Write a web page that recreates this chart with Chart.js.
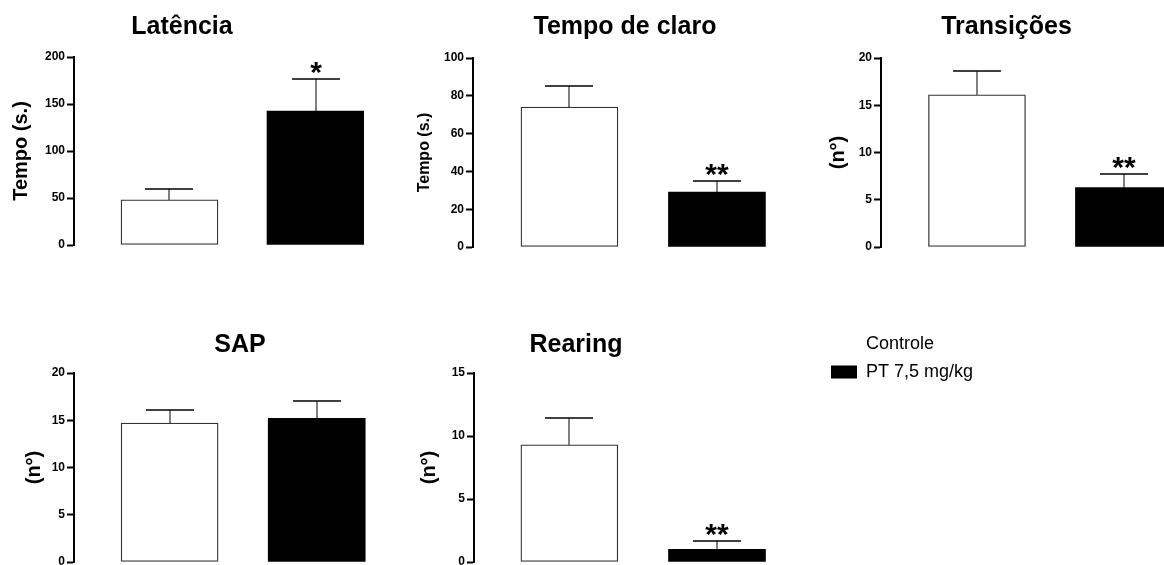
<!DOCTYPE html>
<html lang="pt">
<head>
<meta charset="UTF-8">
<title>Claro-escuro</title>
<script src="https://cdn.jsdelivr.net/npm/chart.js@4"></script>
<style>
  body { margin: 0; background: #fff; overflow: hidden; width: 1164px; height: 565px; position: relative; }
  canvas { position: absolute; }
</style>
</head>
<body>
<script>
// dados (média e EPM por teste)
const testes = ['Latência', 'Tempo de claro', 'Transições', 'SAP', 'Rearing'];
const eixoY = ['Tempo (s.)', 'Tempo (s.)', '(n°)', '(n°)', '(n°)'];
const grupos = ['Controle', 'PT 7,5 mg/kg'];
const controleMedia = [48, 74, 16.1, 14.7, 9.3];
const controleEpm = [12, 11, 2.5, 1.4, 2.1];
const ptMedia = [142.5, 29, 6.3, 15.2, 1.0];
const ptEpm = [34.5, 6, 1.4, 1.8, 0.7];
const signif = ['*', '**', '**', '', '**'];
const yMax = [200, 100, 20, 20, 15];
const yStep = [50, 20, 5, 5, 5];

// posição de cada painel na página
const paineis = [
  { left: 0,   top: 0,   w: 364, h: 280, axisW: 74,  xMin: 0.346, xMax: 2.332, tTop: 12, tBottom: 15, padB: 35, yFont: 20, yPad: 9 },
  { left: 390, top: 0,   w: 470, h: 280, axisW: 83,  xMin: 0.346, xMax: 2.97,  tTop: 12, tBottom: 16, padB: 33, yFont: 16, yPad: 25 },
  { left: 780, top: 0,   w: 453, h: 280, axisW: 101, xMin: 0.347, xMax: 2.742, tTop: 12, tBottom: 16, padB: 33, yFont: 20, yPad: 46 },
  { left: 0,   top: 300, w: 480, h: 300, axisW: 74,  xMin: 0.35,  xMax: 3.11,  tTop: 30, tBottom: 13, padB: 38, yFont: 20, yPad: 22 },
  { left: 382, top: 300, w: 388, h: 300, axisW: 92,  xMin: 0.354, xMax: 2.359, tTop: 30, tBottom: 13, padB: 38, yFont: 20, yPad: 35 }
];

const FONTE = 'Arial, "Liberation Sans", sans-serif';
Chart.defaults.font.family = FONTE;
Chart.defaults.color = '#000';

// barras de erro (só para cima) e asteriscos
const erroPlugin = {
  id: 'erro',
  afterDatasetsDraw(chart, args, opts) {
    const ctx = chart.ctx;
    const y = chart.scales.y;
    const meta = chart.getDatasetMeta(0);
    ctx.save();
    ctx.strokeStyle = '#000';
    meta.data.forEach((bar, i) => {
      const topo = y.getPixelForValue(opts.media[i] + opts.epm[i]);
      const x = Math.round(bar.x);
      ctx.lineWidth = 1;
      ctx.beginPath();
      ctx.moveTo(x, bar.y);
      ctx.lineTo(x, topo);
      ctx.stroke();
      ctx.lineWidth = 1.5;
      ctx.beginPath();
      ctx.moveTo(x - 24, Math.round(topo));
      ctx.lineTo(x + 24, Math.round(topo));
      ctx.stroke();
      if (opts.marcas[i]) {
        ctx.fillStyle = '#000';
        ctx.font = 'bold 30px ' + FONTE;
        ctx.textAlign = 'center';
        ctx.textBaseline = 'alphabetic';
        ctx.fillText(opts.marcas[i], x, topo + 3);
      }
    });
    ctx.restore();
  }
};

function novoCanvas(left, top, w, h) {
  const c = document.createElement('canvas');
  c.width = w; c.height = h;
  c.style.left = left + 'px';
  c.style.top = top + 'px';
  c.style.width = w + 'px';
  c.style.height = h + 'px';
  document.body.appendChild(c);
  return c;
}

testes.forEach((teste, k) => {
  const p = paineis[k];
  const canvas = novoCanvas(p.left, p.top, p.w, p.h);
  const media = [controleMedia[k], ptMedia[k]];
  new Chart(canvas, {
    type: 'bar',
    data: {
      datasets: [{
        data: media.map((v, i) => ({ x: i + 1, y: v })),
        backgroundColor: ['#fff', '#000'],
        borderColor: ['#333', '#000'],
        borderWidth: [1.3, 0],
        borderSkipped: false,
        barThickness: 97
      }]
    },
    options: {
      responsive: false,
      animation: false,
      events: [],
      layout: { padding: { bottom: p.padB } },
      scales: {
        x: { type: 'linear', display: false, min: p.xMin, max: p.xMax, offset: false },
        y: {
          min: 0, max: yMax[k],
          ticks: { stepSize: yStep[k], padding: 2, font: { size: 12, weight: 'bold' }, color: '#000' },
          grid: { drawOnChartArea: false, drawTicks: true, tickLength: 7, tickWidth: 2, tickColor: '#000', color: '#000' },
          border: { display: true, color: '#000', width: 2 },
          title: { display: true, text: eixoY[k], font: { size: p.yFont, weight: 'bold' }, color: '#000', padding: { top: p.yPad, bottom: 0 } },
          afterFit(scale) { scale.width = p.axisW; }
        }
      },
      plugins: {
        legend: { display: false },
        tooltip: { enabled: false },
        title: {
          display: true, text: teste, color: '#000',
          font: { size: 25, weight: 'bold' },
          padding: { top: p.tTop, bottom: p.tBottom }
        },
        erro: { media: media, epm: [controleEpm[k], ptEpm[k]], marcas: ['', signif[k]] }
      }
    },
    plugins: [erroPlugin]
  });
});

// legenda dos grupos
const legCanvas = novoCanvas(821, 325, 400, 70);
new Chart(legCanvas, {
  type: 'bar',
  data: {
    labels: [],
    datasets: [
      { label: grupos[0], data: [], backgroundColor: '#fff', borderWidth: 0 },
      { label: grupos[1], data: [], backgroundColor: '#000', borderWidth: 0 }
    ]
  },
  options: {
    responsive: false,
    animation: false,
    events: [],
    scales: { x: { display: false }, y: { display: false } },
    plugins: {
      tooltip: { enabled: false },
      legend: {
        position: 'left', align: 'start',
        labels: { boxWidth: 26, boxHeight: 13, padding: 10, color: '#000', font: { size: 18 } }
      }
    }
  }
});
</script>
</body>
</html>
